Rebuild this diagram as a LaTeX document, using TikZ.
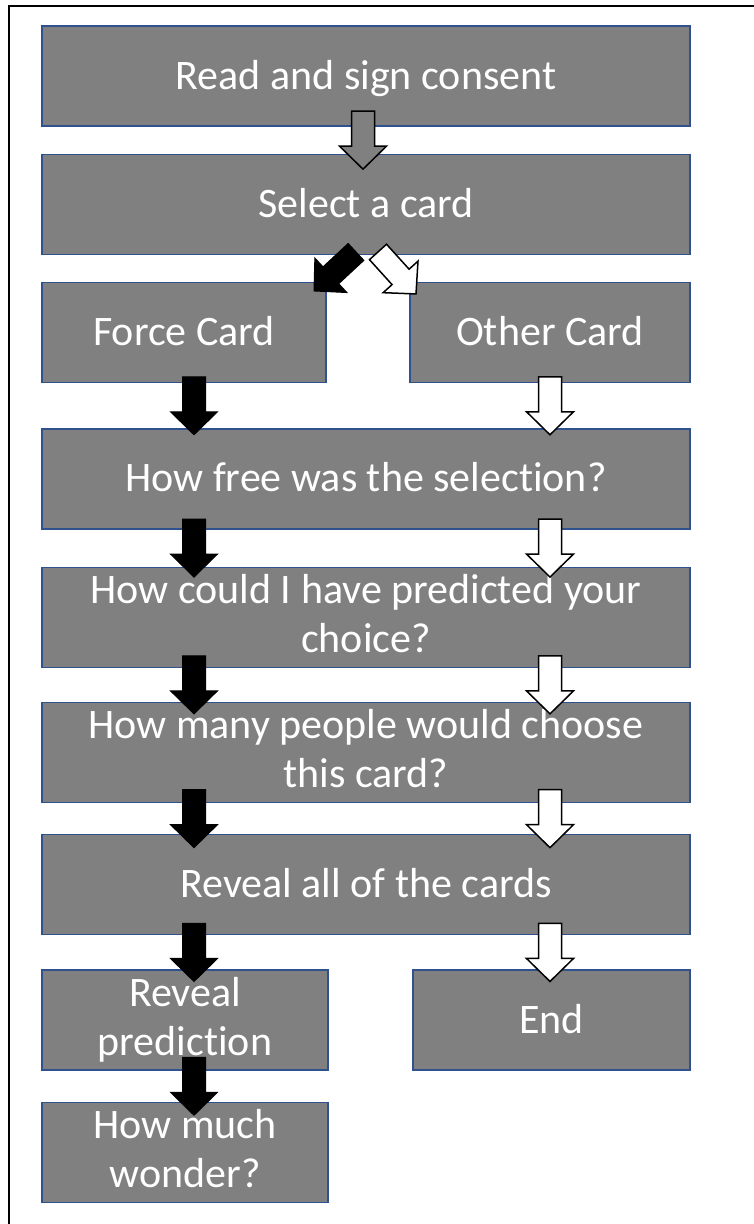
\documentclass[tikz,border=0pt]{standalone}
\usepackage{fontspec}
\setmainfont{Carlito}[Ligatures=NoCommon]
\usetikzlibrary{positioning, calc}

\definecolor{boxgray}{HTML}{808080}
\definecolor{boxedge}{HTML}{2F528F}

% block arrow from tail coordinate #2 to tip coordinate #3
\newcommand{\blockarrow}[3][]{%
  \coordinate (ba-h) at ($(#3)!23pt!(#2)$);
  \draw[#1] ($(#2)!11.5pt!90:(#3)$) -- ($(ba-h)!11.5pt!90:(#3)$) -- ($(ba-h)!23.5pt!90:(#3)$) -- (#3)
    -- ($(ba-h)!23.5pt!-90:(#3)$) -- ($(ba-h)!11.5pt!-90:(#3)$) -- ($(#2)!11.5pt!-90:(#3)$) -- cycle;}

% vertical block arrow in column #2, centred in the gap between nodes #3 and #4
\newcommand{\colarrow}[4][]{%
  \coordinate (ca-m) at ($(#2 |- #3.south)!0.5!(#2 |- #4.north)$);
  \coordinate (ca-a) at ($(ca-m)+(0,29pt)$);
  \coordinate (ca-b) at ($(ca-m)+(0,-29pt)$);
  \blockarrow[#1]{ca-a}{ca-b}}

\begin{document}
\begin{tikzpicture}[
    box/.style={rectangle, draw=boxedge, line width=1.3pt, fill=boxgray, text=white,
        minimum width=648pt, minimum height=100pt, inner sep=0pt, align=center,
        font={\fontsize{42}{49}\selectfont}},
    oneline/.style={text height=30pt, text depth=4pt},
    twoline/.style={text depth=8pt},
    blackarrow/.style={fill=black, draw=black, line width=1pt},
    whitearrow/.style={fill=white, draw=black, line width=1.5pt},
    grayarrow/.style={fill=boxgray, draw=black, line width=1.5pt}
]

\useasboundingbox (0,0) rectangle (754pt,-1224pt);
\draw[line width=1.6pt] (9pt,-1224pt) -- (9pt,-6pt) -- (754pt,-6pt);

\node[box, oneline] (consent) at (366pt,-76pt) {Read and sign consent};
\node[box, oneline, below=27pt of consent] (select) {Select a card};
\node[box, oneline, minimum width=284pt, below=27pt of select.south west, anchor=north west] (force) {Force Card};
\node[box, oneline, minimum width=280pt, below=27pt of select.south east, anchor=north east] (other) {Other Card};
\node[box, oneline, below=45pt of force.south west, anchor=north west] (free) {How free was the selection?};
\node[box, twoline, below=37pt of free] (predict) {How could I have predicted your\\choice?};
\node[box, twoline, below=34pt of predict] (many) {How many people would choose\\this card?};
\node[box, oneline, below=31pt of many] (reveal) {Reveal all of the cards};
\node[box, twoline, minimum width=286pt, below=34pt of reveal.south west, anchor=north west] (prediction) {Reveal\\prediction};
\node[box, oneline, minimum width=277pt, below=34pt of reveal.south east, anchor=north east] (finish) {End};
\node[box, twoline, minimum width=286pt, below=31pt of prediction] (wonder) {How much\\wonder?};

\coordinate (lcol) at (194pt,0);
\coordinate (rcol) at (550pt,0);
\coordinate (mcol) at (363pt,0);

\colarrow[grayarrow]{mcol}{consent}{select}

% split after the card choice
\coordinate (ftail) at ($(select.south)+(-10pt,3pt)$);
\coordinate (ftip) at ($(select.south)+(-52pt,-36pt)$);
\coordinate (otail) at ($(select.south)+(12pt,3pt)$);
\coordinate (otip) at ($(select.south)+(50pt,-39pt)$);
\blockarrow[blackarrow]{ftail}{ftip}
\blockarrow[whitearrow]{otail}{otip}

\foreach \a/\b in {force/free, free/predict, predict/many, many/reveal, reveal/prediction, prediction/wonder}
    {\colarrow[blackarrow]{lcol}{\a}{\b}}
\foreach \a/\b in {other/free, free/predict, predict/many, many/reveal, reveal/finish}
    {\colarrow[whitearrow]{rcol}{\a}{\b}}

\end{tikzpicture}
\end{document}
